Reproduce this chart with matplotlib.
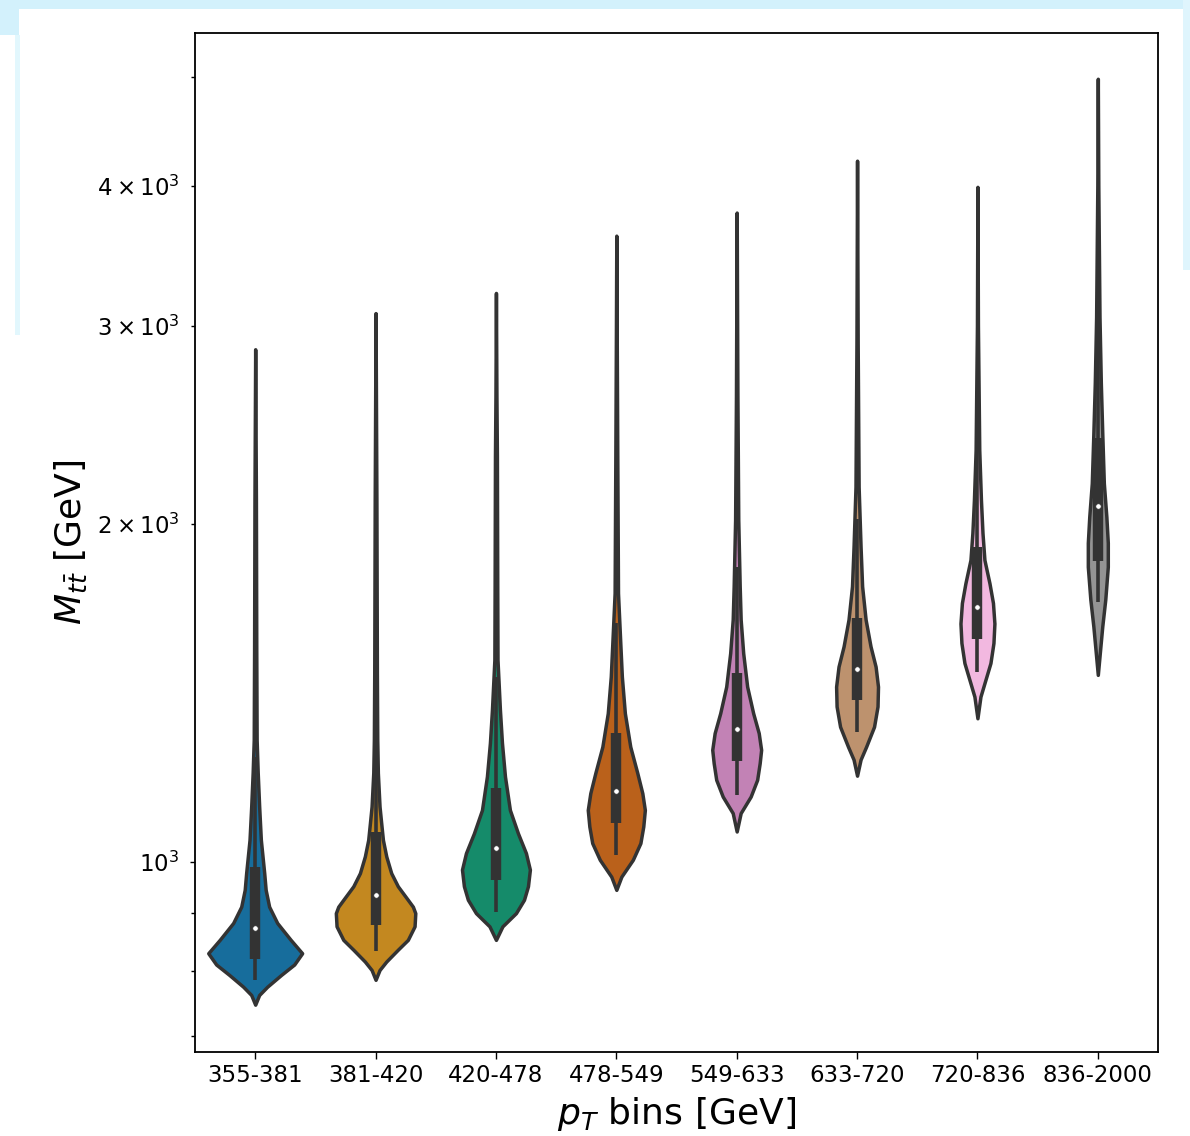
import colorsys
import numpy as np
import matplotlib
matplotlib.use("Agg")
import matplotlib.pyplot as plt
import matplotlib.colors as mcolors
from matplotlib.patches import Rectangle

# pT bins (x categories)
bins = ["355-381", "381-420", "420-478", "478-549", "549-633", "633-720", "720-836", "836-2000"]

# violin outlines: M_tt values [GeV] and half widths (in category units)
v1_m = [746, 761, 774, 793, 810, 829, 852, 882, 912, 944, 977, 1046, 1120, 1200, 1284, 1540, 2100, 2860]
v1_w = [0, .033, .10, .216, .324, .39, .295, .183, .116, .087, .075, .047, .033, .021, .012, .009, .006, 0]
v2_m = [785, 801, 815, 835, 852, 876, 900, 912, 925, 951, 977, 1011, 1046, 1082, 1120, 1200, 1284, 1470, 2100, 3080]
v2_w = [0, .033, .089, .185, .268, .324, .33, .31, .268, .185, .13, .089, .061, .047, .033, .019, .014, .011, .007, 0]
v3_m = [852, 876, 900, 925, 951, 984, 1018, 1060, 1112, 1191, 1276, 1366, 1513, 1735, 2300, 2600, 3210]
v3_w = [0, .054, .166, .233, .266, .282, .249, .183, .116, .075, .05, .033, .013, .011, .008, .004, 0]
v4_m = [944, 970, 1004, 1039, 1075, 1112, 1151, 1200, 1266, 1356, 1462, 1566, 1735, 2300, 3000, 3610]
v4_w = [0, .042, .137, .20, .224, .237, .216, .174, .116, .071, .046, .033, .014, .008, .003, 0]
v5_m = [1064, 1105, 1143, 1183, 1224, 1258, 1302, 1356, 1432, 1534, 1643, 1759, 2016, 2600, 3785]
v5_w = [0, .033, .116, .17, .191, .203, .183, .137, .087, .054, .033, .025, .013, .006, 0]
v6_m = [1193, 1233, 1266, 1319, 1375, 1432, 1492, 1555, 1643, 1759, 1909, 2157, 2900, 4210]
v6_w = [0, .029, .075, .141, .17, .174, .154, .112, .071, .042, .029, .013, .005, 0]
v7_m = [1342, 1403, 1442, 1503, 1566, 1630, 1700, 1770, 1857, 1962, 2101, 2327, 3000, 3990]
v7_w = [0, .025, .058, .108, .133, .141, .129, .10, .058, .042, .029, .015, .004, 0]
v8_m = [1467, 1544, 1620, 1712, 1831, 1923, 2029, 2173, 2407, 2669, 3054, 4000, 4980]
v8_w = [0, .019, .037, .062, .083, .083, .071, .05, .037, .025, .014, .004, 0]

# inner box stats [GeV]
whisk_lo = [785, 832, 903, 1014, 1147, 1305, 1476, 1704]
q1 = [820, 879, 964, 1083, 1230, 1394, 1580, 1854]
median = [873, 935, 1029, 1157, 1314, 1485, 1687, 2075]
q3 = [990, 1063, 1164, 1303, 1473, 1649, 1908, 2385]
whisk_hi = [1240, 1360, 1460, 1630, 1830, 2020, 2380, 3180]

# seaborn "colorblind" palette
palette = ["#0173b2", "#de8f05", "#029e73", "#d55e00", "#cc78bc", "#ca9161", "#fbafe4", "#949494"]
GRAY = "#333333"


def desaturate(c, prop=0.75):
    h, l, s = colorsys.rgb_to_hls(*mcolors.to_rgb(c))
    return colorsys.hls_to_rgb(h, l, s * prop)


shapes = [(v1_m, v1_w), (v2_m, v2_w), (v3_m, v3_w), (v4_m, v4_w),
          (v5_m, v5_w), (v6_m, v6_w), (v7_m, v7_w), (v8_m, v8_w)]

fig = plt.figure(figsize=(11.9, 11.36), dpi=100)
ax = fig.add_axes([195 / 1190, 1 - 1052 / 1136, 963 / 1190, 1019 / 1136])

for i, (m, w) in enumerate(shapes):
    m = np.array(m, dtype=float)
    w = np.array(w, dtype=float)
    ax.fill_betweenx(m, i - w, i + w, facecolor=desaturate(palette[i]),
                     edgecolor=GRAY, linewidth=2.5, joinstyle="round", zorder=1)
    ax.plot([i, i], [whisk_lo[i], whisk_hi[i]], color=GRAY, lw=2.6,
            solid_capstyle="butt", zorder=2)
    ax.plot([i, i], [q1[i], q3[i]], color=GRAY, lw=7.5,
            solid_capstyle="butt", zorder=2)
    ax.scatter(i, median[i], s=16, color="white", edgecolor=GRAY,
               linewidth=0.6, zorder=3)

ax.set_yscale("log")
ax.set_ylim(677, 5470)
ax.set_xlim(-0.5, len(bins) - 0.5)
ax.set_xticks(range(len(bins)))
ax.set_xticklabels(bins)
ax.tick_params(axis="x", labelsize=16.5, length=5, width=1)
ax.tick_params(axis="y", which="both", labelsize=16.5, width=1, pad=8)
ax.tick_params(axis="y", which="minor", length=3)
for sp in ax.spines.values():
    sp.set_linewidth(1.3)

ax.set_xlabel(r"$p_T$ bins [GeV]", fontsize=26, labelpad=6)
ax.set_ylabel(r"$M_{t\bar{t}}$ [GeV]", fontsize=26, labelpad=6)

# light blue border left over from the screenshot
blue = "#d3f1fc"
W, H = 1190, 1136
for x, y, w, h, c in [(0, 0, W, 9, blue), (0, 0, 19, 35, blue),
                      (15, 35, 5, 300, "#e2f7fd"), (1183, 0, 7, 270, "#dff5fd")]:
    fig.add_artist(Rectangle((x / W, 1 - (y + h) / H), w / W, h / H,
                             transform=fig.transFigure, color=c, lw=0, zorder=-1))

fig.savefig("out.png", dpi=100)
